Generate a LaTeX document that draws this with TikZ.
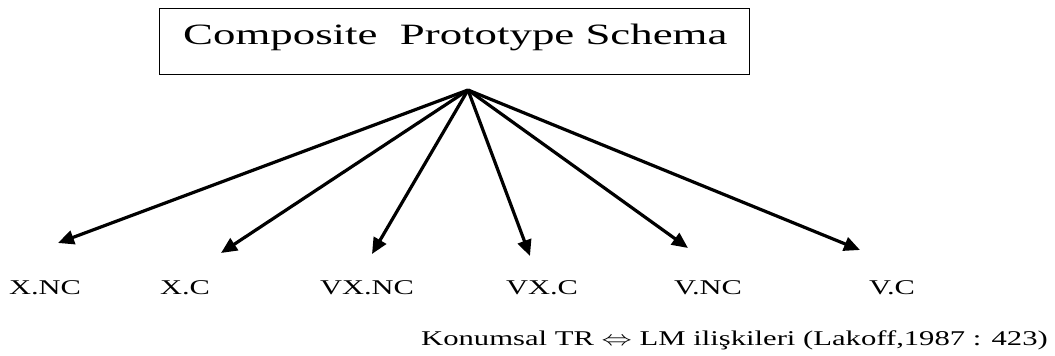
\documentclass[tikz,border=0pt]{standalone}
\usepackage{fontspec}
\setmainfont{Liberation Serif}
\usetikzlibrary{arrows.meta}
\newcommand{\wide}[2]{\scalebox{#1}[1]{#2}}
\begin{document}
\begin{tikzpicture}[x=1pt,y=-1pt,
  lbl/.style={font=\fontsize{21}{24}\selectfont, anchor=base, inner sep=0pt},
  arr/.style={line width=3.2pt, -{Triangle[length=16pt,width=14pt]}}]
\useasboundingbox (0,0) rectangle (1055,356);
\node[draw, line width=1pt, minimum width=590pt, minimum height=66pt, anchor=north west, inner sep=0pt] (box) at (159,8) {};
\node[font=\fontsize{29.5}{32}\selectfont, anchor=base west, inner sep=0pt] (title) at (183,44) {\wide{1.52}{Composite\ \ Prototype Schema}};
\coordinate (apex) at (468,90);
\coordinate (t1) at (58,243);
\coordinate (t2) at (221,253);
\coordinate (t3) at (372,254);
\coordinate (t4) at (530,256);
\coordinate (t5) at (688,248);
\coordinate (t6) at (860,250);
\foreach \i in {1,...,6} \draw[arr] (apex) -- (t\i);
\node[lbl] (l1) at (45,294) {\wide{1.45}{X.NC}};
\node[lbl] (l2) at (185,294) {\wide{1.45}{X.C}};
\node[lbl] (l3) at (367,294) {\wide{1.45}{VX.NC}};
\node[lbl] (l4) at (542,294) {\wide{1.45}{VX.C}};
\node[lbl] (l5) at (708,294) {\wide{1.45}{V.NC}};
\node[lbl] (l6) at (892,294) {\wide{1.45}{V.C}};
\node[font=\fontsize{21}{24}\selectfont, anchor=base east, inner sep=0pt] (cap) at (1048,345) {\wide{1.46}{Konumsal TR $\Leftrightarrow$ LM ilişkileri (Lakoff,1987 : 423)}};
\end{tikzpicture}
\end{document}
